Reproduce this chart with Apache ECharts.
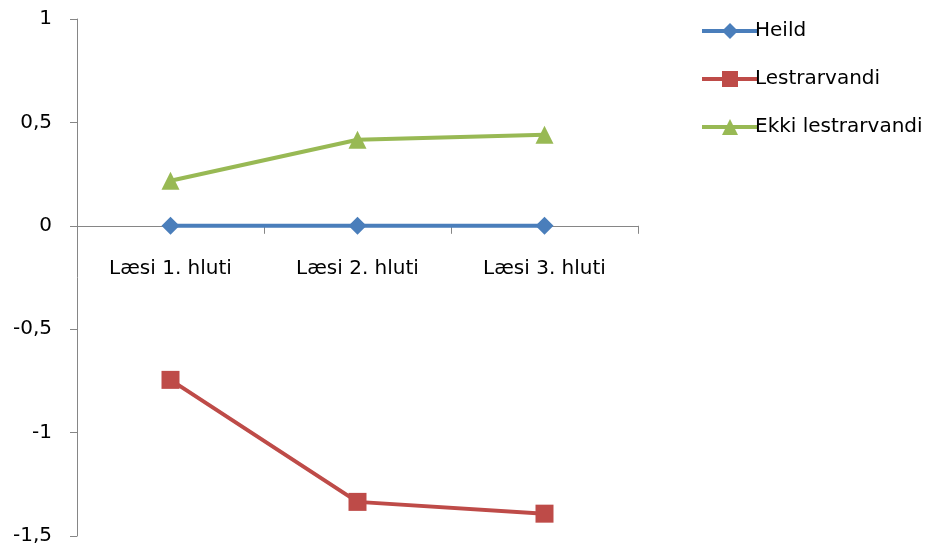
<!DOCTYPE html>
<html>
<head>
<meta charset="utf-8">
<script src="https://cdn.jsdelivr.net/npm/echarts@6/dist/echarts.min.js"></script>
<style>
  html, body { margin: 0; padding: 0; background: #fff; }
  #chart { width: 934px; height: 548px; }
</style>
</head>
<body>
<div id="chart"></div>
<script>
const categories = ['Læsi 1. hluti', 'Læsi 2. hluti', 'Læsi 3. hluti'];
const heild = [0, 0, 0];
const lestrarvandi = [-0.745, -1.335, -1.392];
const ekkiLestrarvandi = [0.218, 0.416, 0.44];

const font = '"DejaVu Sans", "Open Sans", sans-serif';
const axisGray = '#868686';

const chart = echarts.init(document.getElementById('chart'));

chart.setOption({
    animation: false,
    textStyle: { fontFamily: font },
    grid: { left: 77, right: 296, top: 19, bottom: 12, containLabel: false, outerBoundsMode: 'none' },
    legend: {
        orient: 'vertical',
        left: 695,
        top: 16,
        itemWidth: 56,
        itemHeight: 20,
        itemGap: 28,
        lineStyle: { width: 4 },
        textStyle: { fontSize: 20, color: '#000', fontFamily: font, padding: [0, 0, 0, -8] },
        data: ['Heild', 'Lestrarvandi', 'Ekki lestrarvandi']
    },
    xAxis: [
        {
            type: 'category',
            data: categories,
            axisLine: { onZero: true, lineStyle: { color: axisGray, width: 1 } },
            axisTick: { show: true, length: 8, lineStyle: { color: axisGray } },
            axisLabel: { show: false },
            splitLine: { show: false }
        },
        {
            // label-only axis placed under the zero line
            type: 'category',
            data: categories,
            position: 'bottom',
            offset: -310,
            axisLine: { show: false, onZero: false },
            axisTick: { show: false },
            axisLabel: { fontSize: 20, color: '#000', margin: 33, fontFamily: font },
            splitLine: { show: false }
        }
    ],
    yAxis: {
        type: 'value',
        min: -1.5,
        max: 1,
        interval: 0.5,
        axisLine: { show: true, lineStyle: { color: axisGray, width: 1 } },
        axisTick: { show: true, length: 7, lineStyle: { color: axisGray } },
        axisLabel: {
            fontSize: 20, color: '#000', margin: 25, fontFamily: font,
            formatter: v => String(v).replace('.', ',')
        },
        splitLine: { show: false }
    },
    series: [
        {
            name: 'Heild', type: 'line', data: heild,
            symbol: 'diamond', symbolSize: 18,
            itemStyle: { color: '#4A7EBB' },
            lineStyle: { color: '#4A7EBB', width: 4 }
        },
        {
            name: 'Lestrarvandi', type: 'line', data: lestrarvandi,
            symbol: 'rect', symbolSize: 18,
            itemStyle: { color: '#BE4B48' },
            lineStyle: { color: '#BE4B48', width: 4 }
        },
        {
            name: 'Ekki lestrarvandi', type: 'line', data: ekkiLestrarvandi,
            symbol: 'triangle', symbolSize: 18,
            itemStyle: { color: '#98B954' },
            lineStyle: { color: '#98B954', width: 4 }
        }
    ]
});

window.addEventListener('resize', function() {
    chart.resize();
});
</script>
</body>
</html>
